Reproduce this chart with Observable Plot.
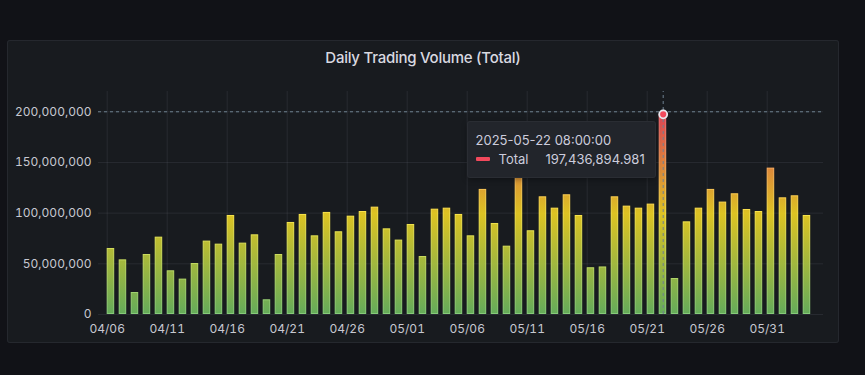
<!DOCTYPE html>
<html>
<head>
<meta charset="utf-8">
<script src="https://cdn.jsdelivr.net/npm/d3@7"></script>
<script src="https://cdn.jsdelivr.net/npm/@observablehq/plot@0.6"></script>
<style>
  html, body { margin: 0; padding: 0; background: #111217; width: 865px; height: 375px; overflow: hidden; }
  body { font-family: Inter, "Noto Sans", sans-serif; }
  #panel { position: absolute; left: 7px; top: 40px; width: 832px; height: 303px; background: #181b1f;
           box-shadow: inset 0 0 0 1px #25282e; border-radius: 3px; }
  #title { position: absolute; left: 0; top: 8px; width: 100%; text-align: center; color: #d8d9e0;
           font-size: 15px; font-weight: 500; line-height: 20px; letter-spacing: -0.25px; }
  #chart { position: absolute; left: 0; top: 0; }
  #tip { position: absolute; background: #22252b; box-shadow: 0 0 0 1px #2a2d33, 0 2px 6px rgba(0,0,0,0.4);
         border-radius: 2px; padding: 8px 10px 9px 8px; color: #ccccdc; font-size: 13px; white-space: nowrap; }
  #tip .l1 { height: 20px; line-height: 20px; }
  #tip .l2 { height: 18px; line-height: 18px; display: flex; align-items: center; }
  #tip .sw { width: 14px; height: 4px; background: #f2495c; border-radius: 1px; margin-right: 9px; }
  #tip .val { margin-left: 17px; }
</style>
</head>
<body>
<div id="panel">
  <div id="title">Daily Trading Volume (Total)</div>
  <div id="chart"></div>
  <div id="tip"></div>
</div>
<script>
// ---- data ----
const days = [
  "2025-04-06","2025-04-07","2025-04-08","2025-04-09","2025-04-10","2025-04-11","2025-04-12","2025-04-13",
  "2025-04-14","2025-04-15","2025-04-16","2025-04-17","2025-04-18","2025-04-19","2025-04-20","2025-04-21",
  "2025-04-22","2025-04-23","2025-04-24","2025-04-25","2025-04-26","2025-04-27","2025-04-28","2025-04-29",
  "2025-04-30","2025-05-01","2025-05-02","2025-05-03","2025-05-04","2025-05-05","2025-05-06","2025-05-07",
  "2025-05-08","2025-05-09","2025-05-10","2025-05-11","2025-05-12","2025-05-13","2025-05-14","2025-05-15",
  "2025-05-16","2025-05-17","2025-05-18","2025-05-19","2025-05-20","2025-05-21","2025-05-22","2025-05-23",
  "2025-05-24","2025-05-25","2025-05-26","2025-05-27","2025-05-28","2025-05-29","2025-05-30","2025-05-31",
  "2025-06-01","2025-06-02","2025-06-03"
];
const totals = [
  65120000, 53900000, 21700000, 59200000, 76300000, 43100000, 34900000, 50300000,
  72400000, 69400000, 97700000, 70400000, 78600000, 14500000, 59200000, 90800000,
  98700000, 77600000, 100700000, 81600000, 97000000, 101600000, 105900000, 84500000,
  73400000, 88800000, 57200000, 103900000, 104900000, 98700000, 77600000, 123400000,
  89800000, 67400000, 142000000, 82600000, 116100000, 104900000, 118100000, 97700000,
  46100000, 46900000, 116100000, 106900000, 104900000, 108900000, 197436894.981, 35500000,
  91400000, 104900000, 123400000, 110900000, 119100000, 103600000, 101600000, 144400000,
  115100000, 117100000, 97700000
];
const xTickLabels = ["04/06","04/11","04/16","04/21","04/26","05/01","05/06","05/11","05/16","05/21","05/26","05/31"];
const yTicks = [0, 50000000, 100000000, 150000000, 200000000];
const hoverDay = "2025-05-22";
const cursorValue = 200000000;
const seriesName = "Total";

// ---- build ----
const sampleHour = 8; // timestamps are 08:00:00
const rows = days.map((d, i) => {
  const t = new Date(d + "T0" + sampleHour + ":00:00Z");
  return { t, value: totals[i], x1: d3.utcHour.offset(t, -7.5), x2: d3.utcHour.offset(t, 7.5) };
});
const xTicks = xTickLabels.map(s => new Date("2025-" + s.replace("/", "-") + "T00:00:00Z"));
const hover = rows[days.indexOf(hoverDay)];

const gridColor = "#ccccdc";
const plot = Plot.plot({
  width: 832, height: 303,
  marginLeft: 91, marginRight: 16, marginTop: 51, marginBottom: 29,
  style: { background: "transparent", color: "#c7c8d1", fontFamily: "Inter, 'Noto Sans', sans-serif", fontSize: "12px" },
  x: { type: "utc", domain: [new Date("2025-04-05T06:36:00Z"), new Date("2025-06-04T16:36:00Z")], label: null },
  y: { domain: [0, 220000000], label: null },
  marks: [
    Plot.gridY(yTicks, { stroke: gridColor, strokeOpacity: 0.09 }),
    Plot.gridX(xTicks, { stroke: gridColor, strokeOpacity: 0.09 }),
    Plot.axisY(yTicks, { tickSize: 0, tickPadding: 7, tickFormat: d3.format(","), label: null, fill: "#c7c8d1" }),
    Plot.axisX(xTicks, { tickSize: 0, tickPadding: 10, tickFormat: d3.utcFormat("%m/%d"), label: null, fill: "#c7c8d1" }),
    Plot.rectY(rows, { x1: "x1", x2: "x2", y1: 0, y2: "value", fill: "url(#volGrad)", fillOpacity: 0.9,
                       stroke: "url(#volGradLine)", strokeWidth: 1, inset: 0.5 }),
    Plot.ruleY([cursorValue], { stroke: "#6d8090", strokeDasharray: "3,3", strokeWidth: 1 }),
    Plot.ruleX([hover.t], { stroke: "#6d8090", strokeDasharray: "3,3", strokeWidth: 1, y1: 0, y2: 220000000 }),
    Plot.dot([hover], { x: "t", y: "value", r: 4, fill: "#f2495c", stroke: "#e8e8ee", strokeWidth: 1.8 })
  ]
});
document.getElementById("chart").appendChild(plot);

// shared value gradient (green -> yellow -> red), in data space
const ys = plot.scale("y");
const svg = d3.select(plot);
const defs = svg.insert("defs", ":first-child");
function grad(id, stops) {
  const g = defs.append("linearGradient").attr("id", id).attr("gradientUnits", "userSpaceOnUse")
    .attr("x1", 0).attr("x2", 0).attr("y1", ys.apply(0)).attr("y2", ys.apply(d3.max(totals)));
  stops.forEach(([o, c]) => g.append("stop").attr("offset", o).attr("stop-color", c));
}
grad("volGrad", [["0%", "#6dbb61"], ["50%", "#f2d523"], ["100%", "#f2495c"]]);
grad("volGradLine", [["0%", "#86cc7a"], ["50%", "#fae54a"], ["100%", "#f76573"]]);

// tooltip placed from scales
const px = plot.scale("x").apply(hover.t);
const py = ys.apply(hover.value);
const tip = document.getElementById("tip");
tip.innerHTML = `<div class="l1">${d3.utcFormat("%Y-%m-%d %H:%M:%S")(hover.t)}</div>
  <div class="l2"><span class="sw"></span><span>${seriesName}</span><span class="val">${d3.format(",.3f")(hover.value)}</span></div>`;
tip.style.right = (832 - (px - 8)) + "px";
tip.style.top = (py + 8) + "px";
</script>
</body>
</html>
